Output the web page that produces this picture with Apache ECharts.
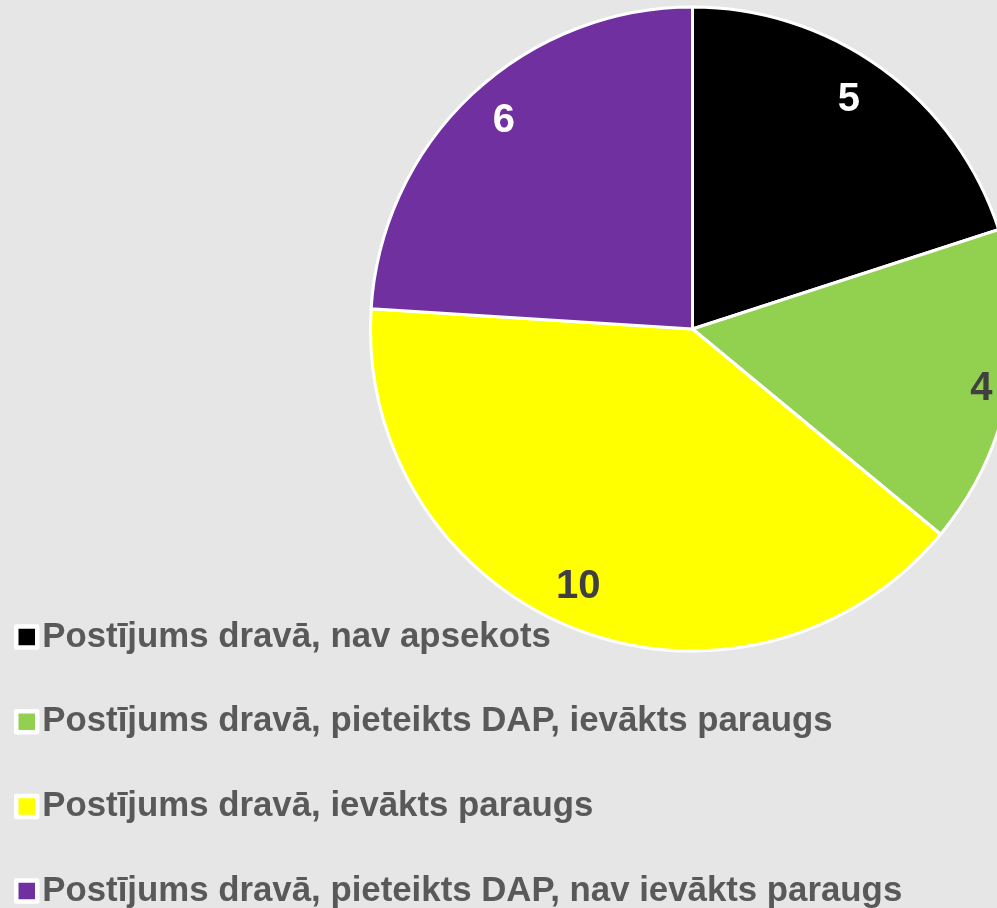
<!DOCTYPE html>
<html>
<head>
<meta charset="utf-8">
<script src="https://cdn.jsdelivr.net/npm/echarts@6/dist/echarts.min.js"></script>
<style>
html,body{margin:0;padding:0;background:#e6e6e6;}
#c{width:997px;height:908px;}
</style>
</head>
<body>
<div id="c"></div>
<script>
const categories = [
  'Postījums dravā, nav apsekots',
  'Postījums dravā, pieteikts DAP, ievākts paraugs',
  'Postījums dravā, ievākts paraugs',
  'Postījums dravā, pieteikts DAP, nav ievākts paraugs'
];
const values = [5, 4, 10, 6];
const colors = ['#000000', '#92d050', '#ffff00', '#7030a0'];
const labelColors = ['#ffffff', '#404040', '#404040', '#ffffff'];
// small manual label nudges (layout only)
const labelNudges = [[-10, 0], [11, 7], [-10, -5], [5, -2]];

const chart = echarts.init(document.getElementById('c'), null, {renderer: 'canvas'});
const font = '"Liberation Sans", Arial, sans-serif';

const mainData = categories.map((n, i) => ({name: n, value: values[i], itemStyle: {color: colors[i]}}));
const labelData = categories.map((n, i) => ({
  name: n, value: values[i],
  label: {color: labelColors[i], offset: labelNudges[i]}
}));

chart.setOption({
  backgroundColor: '#e6e6e6',
  animation: false,
  legend: {
    orient: 'vertical',
    left: 14,
    top: 619,
    height: 300,
    padding: 0,
    itemWidth: 21,
    itemHeight: 21,
    itemGap: 48.7,
    itemTextGap: 5,
    itemStyle: {borderColor: '#ffffff', borderWidth: 4.5},
    icon: 'rect',
    data: categories,
    textStyle: {fontFamily: font, fontSize: 34.8, fontWeight: 'bold', color: '#595959', lineHeight: 36},
    selectedMode: false
  },
  series: [
    {
      type: 'pie',
      center: [692.5, 329],
      radius: [0, 322],
      startAngle: 90,
      clockwise: true,
      data: mainData,
      itemStyle: {borderColor: '#ffffff', borderWidth: 3},
      label: {show: false},
      labelLine: {show: false},
      emphasis: {disabled: true},
      silent: true
    },
    {
      type: 'pie',
      center: [692.5, 329],
      radius: [238, 322],
      startAngle: 90,
      clockwise: true,
      data: labelData,
      itemStyle: {color: 'rgba(0,0,0,0)', borderWidth: 0},
      label: {show: true, position: 'inside', formatter: '{c}', fontFamily: font, fontSize: 40, fontWeight: 'bold'},
      labelLine: {show: false},
      emphasis: {disabled: true},
      silent: true
    }
  ]
});
</script>
</body>
</html>
